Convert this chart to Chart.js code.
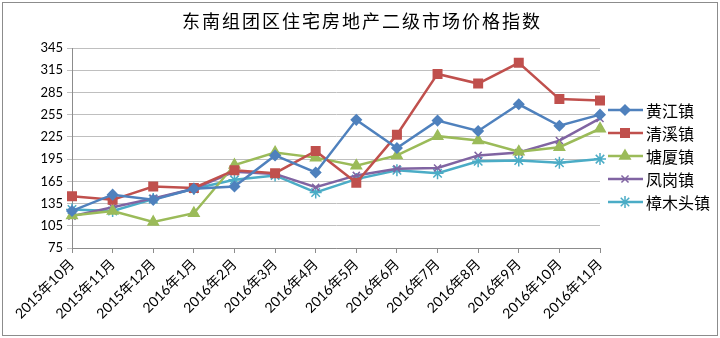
<!DOCTYPE html>
<html>
<head>
<meta charset="utf-8">
<script src="https://cdn.jsdelivr.net/npm/chart.js@4"></script>
<style>
  html, body { margin: 0; padding: 0; background: #fff; }
  #wrap { width: 720px; height: 338px; position: relative; }
</style>
</head>
<body>
<div id="wrap"><canvas id="priceChart"></canvas></div>
<script>
const chartTitle = '东南组团区住宅房地产二级市场价格指数';
const months = ['2015年10月', '2015年11月', '2015年12月', '2016年1月', '2016年2月', '2016年3月', '2016年4月',
  '2016年5月', '2016年6月', '2016年7月', '2016年8月', '2016年9月', '2016年10月', '2016年11月'];
const seriesNames = ['黄江镇', '清溪镇', '塘厦镇', '凤岗镇', '樟木头镇'];
const huangjiang = [125, 147, 140, 155, 158, 200, 177, 248, 210, 247, 233, 269, 240, 255];
const qingxi = [145, 140, 158, 156, 180, 176, 206, 163, 228, 310, 297, 325, 276, 274];
const tangxia = [119, 125, 110, 122, 187, 204, 197, 186, 200, 226, 220, 205, 211, 236];
const fenggang = [118, 130, 142, 155, 178, 175, 157, 173, 182, 183, 200, 204, 220, 250];
const zhangmutou = [127, 125, 141, 155, 167, 173, 150, 168, 180, 176, 192, 193, 190, 195];
const yTicks = { min: 75, max: 345, step: 30 };

const colors = ['#4F81BD', '#C0504D', '#9BBB59', '#8064A2', '#4BACC6'];
const markers = ['rectRot', 'rect', 'triangle', 'crossRot', 'star'];
const markerSize = [5, 6, 6, 5, 6];
const values = [huangjiang, qingxi, tangxia, fenggang, zhangmutou];

const cjk = "Lato, 'Noto Sans CJK SC', sans-serif";

// title, frame and excel style legend (line + marker)
const decor = {
  id: 'decor',
  beforeDraw(chart) {
    const c = chart.ctx;
    c.save();
    c.fillStyle = '#fff';
    c.fillRect(0, 0, chart.width, chart.height);
    c.restore();
  },
  afterDraw(chart) {
    const c = chart.ctx;
    c.save();
    c.strokeStyle = '#8c8c8c';
    c.lineWidth = 1;
    c.strokeRect(2.5, 2.5, 715, 333);
    c.fillStyle = '#000';
    c.font = "18px 'Noto Sans CJK SC'";
    c.letterSpacing = '2px';
    c.textAlign = 'left';
    c.textBaseline = 'middle';
    c.fillText(chartTitle, 182, 21);
    c.letterSpacing = '0px';
    chart.data.datasets.forEach((ds, i) => {
      const y = 110 + i * 23;
      c.strokeStyle = ds.borderColor;
      c.lineWidth = 2.5;
      c.beginPath();
      c.moveTo(608, y);
      c.lineTo(643, y);
      c.stroke();
      c.fillStyle = ds.borderColor;
      c.lineWidth = 1.5;
      Chart.helpers.drawPoint(c, {
        pointStyle: ds.pointStyle, radius: ds.pointRadius, borderWidth: 1.5
      }, 625, y);
      c.fillStyle = '#000';
      c.font = "16px 'Noto Sans CJK SC'";
      c.textAlign = 'left';
      c.fillText(ds.label, 646, y + 1);
    });
    c.restore();
  }
};

new Chart(document.getElementById('priceChart'), {
  type: 'line',
  data: {
    labels: months,
    datasets: seriesNames.map((name, i) => ({
      label: name,
      data: values[i],
      borderColor: colors[i],
      backgroundColor: colors[i],
      pointBackgroundColor: colors[i],
      pointBorderColor: colors[i],
      pointStyle: markers[i],
      pointRadius: markerSize[i],
      pointBorderWidth: 1.5,
      borderWidth: 2.5,
      tension: 0
    }))
  },
  options: {
    responsive: true,
    maintainAspectRatio: false,
    animation: false,
    layout: { padding: { top: 48, right: 120, left: 0, bottom: 0 } },
    plugins: { legend: { display: false }, title: { display: false }, tooltip: { enabled: false } },
    scales: {
      x: {
        offset: false,
        afterFit: s => { s.height = 90; },
        grid: { drawOnChartArea: false, drawTicks: true, tickLength: 5, color: '#8c8c8c' },
        border: { color: '#8c8c8c' },
        ticks: { color: '#000', maxRotation: 45, minRotation: 45, autoSkip: false, font: { family: cjk, size: 14 } }
      },
      y: {
        min: yTicks.min,
        max: yTicks.max,
        afterFit: s => { s.width = 72; },
        border: { color: '#8c8c8c' },
        grid: { color: '#bfbfbf', tickLength: 5, lineWidth: 1 },
        ticks: { stepSize: yTicks.step, color: '#000', padding: 4, font: { family: cjk, size: 13 } }
      }
    }
  },
  plugins: [decor]
});
</script>
</body>
</html>
